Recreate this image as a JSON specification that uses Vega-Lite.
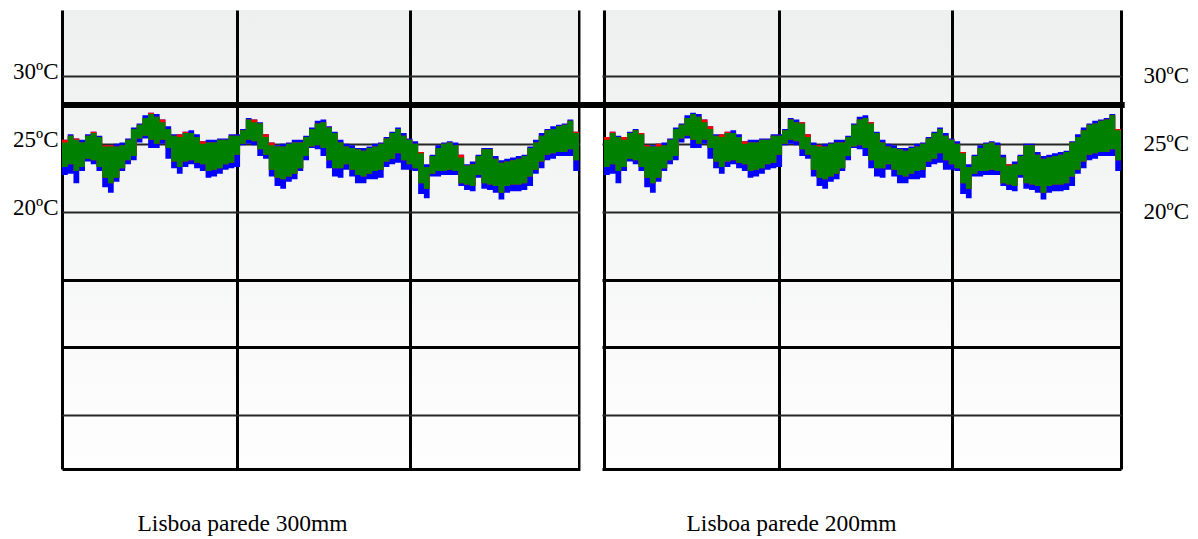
{
"$schema":"https://vega.github.io/schema/vega-lite/v6.json",
"autosize":{"type":"none"},
"width":1059,"height":459,
"padding":{"left":62,"top":10,"right":77,"bottom":70},
"background":"#ffffff",
"config":{"view":{"stroke":null,"fill":{"gradient":"linear","x1":0,"y1":0,"x2":0,"y2":1,"stops":[{"offset":0,"color":"#eeefef"},{"offset":1,"color":"#fefefe"}]}}},
"datasets":{
"p300":[
{"d":0,"bhi":25.3,"ghi":25.1,"rhi":25.3,"glo":23.3,"blo":22.7},
{"d":1,"bhi":25.7,"ghi":25.6,"rhi":25.6,"glo":23.5,"blo":22.8},
{"d":2,"bhi":25.4,"ghi":25.3,"rhi":25.4,"glo":23.0,"blo":22.1},
{"d":3,"bhi":25.3,"ghi":25.1,"rhi":25.1,"glo":23.3,"blo":23.0},
{"d":4,"bhi":25.7,"ghi":25.6,"rhi":25.6,"glo":23.9,"blo":23.7},
{"d":5,"bhi":25.9,"ghi":25.8,"rhi":25.9,"glo":23.8,"blo":23.5},
{"d":6,"bhi":25.6,"ghi":25.5,"rhi":25.5,"glo":23.3,"blo":23.0},
{"d":7,"bhi":24.9,"ghi":24.8,"rhi":24.9,"glo":22.5,"blo":21.8},
{"d":8,"bhi":24.9,"ghi":24.8,"rhi":24.9,"glo":22.1,"blo":21.4},
{"d":9,"bhi":25.0,"ghi":24.8,"rhi":24.8,"glo":22.5,"blo":22.2},
{"d":10,"bhi":25.1,"ghi":24.9,"rhi":24.9,"glo":23.2,"blo":23.0},
{"d":11,"bhi":25.4,"ghi":25.3,"rhi":25.3,"glo":23.8,"blo":23.5},
{"d":12,"bhi":26.2,"ghi":26.1,"rhi":26.1,"glo":24.1,"blo":23.8},
{"d":13,"bhi":26.5,"ghi":26.4,"rhi":26.4,"glo":25.4,"blo":25.1},
{"d":14,"bhi":27.1,"ghi":26.9,"rhi":26.9,"glo":25.6,"blo":25.4},
{"d":15,"bhi":27.3,"ghi":27.2,"rhi":27.3,"glo":25.3,"blo":24.7},
{"d":16,"bhi":27.2,"ghi":27.0,"rhi":27.0,"glo":25.0,"blo":24.7},
{"d":17,"bhi":26.8,"ghi":26.6,"rhi":26.8,"glo":25.3,"blo":25.0},
{"d":18,"bhi":26.3,"ghi":26.1,"rhi":26.1,"glo":24.7,"blo":23.9},
{"d":19,"bhi":25.7,"ghi":25.6,"rhi":25.6,"glo":23.7,"blo":23.2},
{"d":20,"bhi":25.7,"ghi":25.5,"rhi":25.7,"glo":23.3,"blo":22.8},
{"d":21,"bhi":25.9,"ghi":25.8,"rhi":25.9,"glo":23.7,"blo":23.3},
{"d":22,"bhi":26.0,"ghi":25.8,"rhi":25.8,"glo":23.8,"blo":23.5},
{"d":23,"bhi":25.7,"ghi":25.5,"rhi":25.5,"glo":23.6,"blo":23.2},
{"d":24,"bhi":25.2,"ghi":25.0,"rhi":25.2,"glo":23.5,"blo":23.0},
{"d":25,"bhi":25.3,"ghi":25.1,"rhi":25.1,"glo":23.0,"blo":22.5},
{"d":26,"bhi":25.3,"ghi":25.1,"rhi":25.1,"glo":23.1,"blo":22.6},
{"d":27,"bhi":25.4,"ghi":25.3,"rhi":25.3,"glo":23.2,"blo":22.8},
{"d":28,"bhi":25.4,"ghi":25.3,"rhi":25.3,"glo":23.5,"blo":23.1},
{"d":29,"bhi":25.7,"ghi":25.6,"rhi":25.6,"glo":23.6,"blo":23.2},
{"d":30,"bhi":25.7,"ghi":25.6,"rhi":25.6,"glo":24.2,"blo":23.3},
{"d":31,"bhi":26.1,"ghi":26.0,"rhi":26.0,"glo":25.0,"blo":24.9},
{"d":32,"bhi":26.9,"ghi":26.8,"rhi":26.8,"glo":25.3,"blo":25.0},
{"d":33,"bhi":26.8,"ghi":26.6,"rhi":26.8,"glo":25.2,"blo":24.9},
{"d":34,"bhi":26.6,"ghi":26.5,"rhi":26.5,"glo":24.6,"blo":24.1},
{"d":35,"bhi":25.7,"ghi":25.5,"rhi":25.7,"glo":24.2,"blo":23.9},
{"d":36,"bhi":25.1,"ghi":24.9,"rhi":25.1,"glo":23.1,"blo":22.6},
{"d":37,"bhi":24.9,"ghi":24.8,"rhi":24.8,"glo":22.5,"blo":21.9},
{"d":38,"bhi":25.0,"ghi":24.8,"rhi":24.8,"glo":22.4,"blo":21.7},
{"d":39,"bhi":25.1,"ghi":25.0,"rhi":25.0,"glo":22.6,"blo":22.2},
{"d":40,"bhi":25.3,"ghi":25.1,"rhi":25.1,"glo":22.8,"blo":22.4},
{"d":41,"bhi":25.3,"ghi":25.1,"rhi":25.1,"glo":23.2,"blo":23.0},
{"d":42,"bhi":25.6,"ghi":25.5,"rhi":25.5,"glo":24.1,"blo":23.8},
{"d":43,"bhi":26.2,"ghi":26.1,"rhi":26.1,"glo":24.8,"blo":24.7},
{"d":44,"bhi":26.7,"ghi":26.5,"rhi":26.5,"glo":24.9,"blo":24.6},
{"d":45,"bhi":26.8,"ghi":26.6,"rhi":26.6,"glo":24.7,"blo":24.1},
{"d":46,"bhi":26.3,"ghi":26.2,"rhi":26.2,"glo":23.8,"blo":23.2},
{"d":47,"bhi":25.9,"ghi":25.8,"rhi":25.8,"glo":23.2,"blo":22.6},
{"d":48,"bhi":25.3,"ghi":25.1,"rhi":25.1,"glo":23.2,"blo":22.5},
{"d":49,"bhi":25.0,"ghi":24.8,"rhi":24.8,"glo":23.5,"blo":23.1},
{"d":50,"bhi":24.9,"ghi":24.7,"rhi":24.7,"glo":23.1,"blo":22.6},
{"d":51,"bhi":24.7,"ghi":24.6,"rhi":24.6,"glo":22.7,"blo":22.1},
{"d":52,"bhi":24.7,"ghi":24.5,"rhi":24.5,"glo":22.6,"blo":22.1},
{"d":53,"bhi":24.8,"ghi":24.7,"rhi":24.7,"glo":22.8,"blo":22.4},
{"d":54,"bhi":25.0,"ghi":24.8,"rhi":24.8,"glo":23.0,"blo":22.4},
{"d":55,"bhi":25.1,"ghi":25.0,"rhi":25.0,"glo":23.1,"blo":22.5},
{"d":56,"bhi":25.5,"ghi":25.4,"rhi":25.4,"glo":23.7,"blo":23.3},
{"d":57,"bhi":25.9,"ghi":25.8,"rhi":25.8,"glo":23.9,"blo":23.5},
{"d":58,"bhi":26.2,"ghi":26.1,"rhi":26.1,"glo":24.3,"blo":23.6},
{"d":59,"bhi":25.8,"ghi":25.6,"rhi":25.6,"glo":23.8,"blo":23.1},
{"d":60,"bhi":25.4,"ghi":25.3,"rhi":25.3,"glo":23.5,"blo":23.1},
{"d":61,"bhi":25.2,"ghi":25.0,"rhi":25.0,"glo":23.2,"blo":23.0},
{"d":62,"bhi":24.4,"ghi":24.3,"rhi":24.4,"glo":22.1,"blo":21.3},
{"d":63,"bhi":23.5,"ghi":23.3,"rhi":23.3,"glo":21.7,"blo":21.0},
{"d":64,"bhi":24.2,"ghi":24.1,"rhi":24.1,"glo":22.8,"blo":22.6},
{"d":65,"bhi":24.9,"ghi":24.7,"rhi":24.7,"glo":23.0,"blo":22.6},
{"d":66,"bhi":25.1,"ghi":25.0,"rhi":25.0,"glo":23.0,"blo":22.7},
{"d":67,"bhi":25.2,"ghi":25.1,"rhi":25.1,"glo":23.1,"blo":22.7},
{"d":68,"bhi":25.1,"ghi":24.9,"rhi":24.9,"glo":23.0,"blo":22.7},
{"d":69,"bhi":24.2,"ghi":24.0,"rhi":24.2,"glo":22.1,"blo":21.9},
{"d":70,"bhi":23.5,"ghi":23.4,"rhi":23.4,"glo":22.0,"blo":21.6},
{"d":71,"bhi":23.7,"ghi":23.5,"rhi":23.5,"glo":21.9,"blo":21.5},
{"d":72,"bhi":24.2,"ghi":24.1,"rhi":24.1,"glo":22.7,"blo":22.5},
{"d":73,"bhi":24.7,"ghi":24.6,"rhi":24.6,"glo":22.1,"blo":21.7},
{"d":74,"bhi":24.7,"ghi":24.6,"rhi":24.6,"glo":22.0,"blo":21.6},
{"d":75,"bhi":24.1,"ghi":23.9,"rhi":23.9,"glo":21.9,"blo":21.4},
{"d":76,"bhi":23.8,"ghi":23.6,"rhi":23.6,"glo":21.4,"blo":20.9},
{"d":77,"bhi":23.9,"ghi":23.7,"rhi":23.7,"glo":21.9,"blo":21.4},
{"d":78,"bhi":24.0,"ghi":23.8,"rhi":23.8,"glo":22.0,"blo":21.5},
{"d":79,"bhi":24.1,"ghi":23.9,"rhi":23.9,"glo":22.0,"blo":21.5},
{"d":80,"bhi":24.2,"ghi":24.1,"rhi":24.1,"glo":22.1,"blo":21.6},
{"d":81,"bhi":24.8,"ghi":24.7,"rhi":24.7,"glo":22.6,"blo":21.9},
{"d":82,"bhi":25.3,"ghi":25.1,"rhi":25.1,"glo":23.1,"blo":22.8},
{"d":83,"bhi":25.8,"ghi":25.6,"rhi":25.6,"glo":23.7,"blo":23.2},
{"d":84,"bhi":26.1,"ghi":26.0,"rhi":26.0,"glo":24.2,"blo":23.8},
{"d":85,"bhi":26.3,"ghi":26.1,"rhi":26.1,"glo":24.3,"blo":23.9},
{"d":86,"bhi":26.4,"ghi":26.3,"rhi":26.3,"glo":24.4,"blo":24.1},
{"d":87,"bhi":26.5,"ghi":26.4,"rhi":26.4,"glo":24.4,"blo":24.1},
{"d":88,"bhi":26.8,"ghi":26.7,"rhi":26.7,"glo":24.6,"blo":24.1},
{"d":89,"bhi":25.9,"ghi":25.8,"rhi":25.9,"glo":23.8,"blo":23.0},
{"d":90,"bhi":25.9,"ghi":25.8,"rhi":25.9,"glo":23.8,"blo":23.0}
],
"p200":[
{"d":0,"bhi":25.5,"ghi":25.3,"rhi":25.5,"glo":23.3,"blo":22.7},
{"d":1,"bhi":25.9,"ghi":25.8,"rhi":25.9,"glo":23.5,"blo":22.8},
{"d":2,"bhi":25.6,"ghi":25.5,"rhi":25.5,"glo":23.0,"blo":22.1},
{"d":3,"bhi":25.5,"ghi":25.3,"rhi":25.5,"glo":23.3,"blo":23.0},
{"d":4,"bhi":25.9,"ghi":25.8,"rhi":25.8,"glo":23.9,"blo":23.7},
{"d":5,"bhi":26.1,"ghi":26.0,"rhi":26.0,"glo":23.8,"blo":23.5},
{"d":6,"bhi":25.8,"ghi":25.7,"rhi":25.8,"glo":23.3,"blo":23.0},
{"d":7,"bhi":24.9,"ghi":24.8,"rhi":24.9,"glo":22.5,"blo":21.8},
{"d":8,"bhi":24.9,"ghi":24.8,"rhi":24.8,"glo":22.1,"blo":21.4},
{"d":9,"bhi":25.0,"ghi":24.8,"rhi":25.0,"glo":22.5,"blo":22.2},
{"d":10,"bhi":25.1,"ghi":24.9,"rhi":24.9,"glo":23.2,"blo":23.0},
{"d":11,"bhi":25.4,"ghi":25.3,"rhi":25.3,"glo":23.8,"blo":23.5},
{"d":12,"bhi":26.2,"ghi":26.1,"rhi":26.1,"glo":24.1,"blo":23.8},
{"d":13,"bhi":26.5,"ghi":26.4,"rhi":26.4,"glo":25.4,"blo":25.1},
{"d":14,"bhi":27.1,"ghi":26.9,"rhi":26.9,"glo":25.6,"blo":25.4},
{"d":15,"bhi":27.3,"ghi":27.2,"rhi":27.2,"glo":25.3,"blo":24.7},
{"d":16,"bhi":27.2,"ghi":27.0,"rhi":27.0,"glo":25.0,"blo":24.7},
{"d":17,"bhi":26.8,"ghi":26.6,"rhi":26.8,"glo":25.3,"blo":25.0},
{"d":18,"bhi":26.3,"ghi":26.1,"rhi":26.3,"glo":24.7,"blo":23.9},
{"d":19,"bhi":25.7,"ghi":25.6,"rhi":25.6,"glo":23.7,"blo":23.2},
{"d":20,"bhi":25.7,"ghi":25.5,"rhi":25.7,"glo":23.3,"blo":22.8},
{"d":21,"bhi":25.9,"ghi":25.8,"rhi":25.9,"glo":23.7,"blo":23.3},
{"d":22,"bhi":26.0,"ghi":25.8,"rhi":25.8,"glo":23.8,"blo":23.5},
{"d":23,"bhi":25.7,"ghi":25.5,"rhi":25.5,"glo":23.6,"blo":23.2},
{"d":24,"bhi":25.2,"ghi":25.0,"rhi":25.2,"glo":23.5,"blo":23.0},
{"d":25,"bhi":25.3,"ghi":25.1,"rhi":25.1,"glo":23.0,"blo":22.5},
{"d":26,"bhi":25.3,"ghi":25.1,"rhi":25.1,"glo":23.1,"blo":22.6},
{"d":27,"bhi":25.4,"ghi":25.3,"rhi":25.3,"glo":23.2,"blo":22.8},
{"d":28,"bhi":25.4,"ghi":25.3,"rhi":25.3,"glo":23.5,"blo":23.1},
{"d":29,"bhi":25.7,"ghi":25.6,"rhi":25.6,"glo":23.6,"blo":23.2},
{"d":30,"bhi":25.7,"ghi":25.6,"rhi":25.6,"glo":24.2,"blo":23.3},
{"d":31,"bhi":26.1,"ghi":26.0,"rhi":26.0,"glo":25.0,"blo":24.9},
{"d":32,"bhi":26.9,"ghi":26.8,"rhi":26.8,"glo":25.3,"blo":25.0},
{"d":33,"bhi":26.8,"ghi":26.6,"rhi":26.6,"glo":25.2,"blo":24.9},
{"d":34,"bhi":26.6,"ghi":26.5,"rhi":26.6,"glo":24.6,"blo":24.1},
{"d":35,"bhi":25.7,"ghi":25.5,"rhi":25.7,"glo":24.2,"blo":23.9},
{"d":36,"bhi":25.1,"ghi":24.9,"rhi":24.9,"glo":23.1,"blo":22.6},
{"d":37,"bhi":24.9,"ghi":24.8,"rhi":24.9,"glo":22.5,"blo":21.9},
{"d":38,"bhi":25.0,"ghi":24.8,"rhi":24.8,"glo":22.4,"blo":21.7},
{"d":39,"bhi":25.1,"ghi":25.0,"rhi":25.0,"glo":22.6,"blo":22.2},
{"d":40,"bhi":25.3,"ghi":25.1,"rhi":25.1,"glo":22.8,"blo":22.4},
{"d":41,"bhi":25.3,"ghi":25.1,"rhi":25.1,"glo":23.2,"blo":23.0},
{"d":42,"bhi":25.6,"ghi":25.5,"rhi":25.5,"glo":24.1,"blo":23.8},
{"d":43,"bhi":26.5,"ghi":26.4,"rhi":26.4,"glo":24.8,"blo":24.7},
{"d":44,"bhi":27.0,"ghi":26.8,"rhi":26.8,"glo":24.9,"blo":24.6},
{"d":45,"bhi":27.1,"ghi":26.9,"rhi":26.9,"glo":24.7,"blo":24.1},
{"d":46,"bhi":26.6,"ghi":26.5,"rhi":26.6,"glo":23.8,"blo":23.2},
{"d":47,"bhi":25.9,"ghi":25.8,"rhi":25.8,"glo":23.2,"blo":22.6},
{"d":48,"bhi":25.3,"ghi":25.1,"rhi":25.1,"glo":23.2,"blo":22.5},
{"d":49,"bhi":25.0,"ghi":24.8,"rhi":24.8,"glo":23.5,"blo":23.1},
{"d":50,"bhi":24.9,"ghi":24.7,"rhi":24.7,"glo":23.1,"blo":22.6},
{"d":51,"bhi":24.7,"ghi":24.6,"rhi":24.6,"glo":22.7,"blo":22.1},
{"d":52,"bhi":24.7,"ghi":24.5,"rhi":24.5,"glo":22.6,"blo":22.1},
{"d":53,"bhi":24.8,"ghi":24.7,"rhi":24.7,"glo":22.8,"blo":22.4},
{"d":54,"bhi":25.0,"ghi":24.8,"rhi":24.8,"glo":23.0,"blo":22.4},
{"d":55,"bhi":25.1,"ghi":25.0,"rhi":25.0,"glo":23.1,"blo":22.5},
{"d":56,"bhi":25.5,"ghi":25.4,"rhi":25.4,"glo":23.7,"blo":23.3},
{"d":57,"bhi":25.9,"ghi":25.8,"rhi":25.8,"glo":23.9,"blo":23.5},
{"d":58,"bhi":26.2,"ghi":26.1,"rhi":26.1,"glo":24.3,"blo":23.6},
{"d":59,"bhi":25.8,"ghi":25.6,"rhi":25.6,"glo":23.8,"blo":23.1},
{"d":60,"bhi":25.4,"ghi":25.3,"rhi":25.3,"glo":23.5,"blo":23.1},
{"d":61,"bhi":25.2,"ghi":25.0,"rhi":25.0,"glo":23.2,"blo":23.0},
{"d":62,"bhi":24.4,"ghi":24.3,"rhi":24.4,"glo":22.1,"blo":21.3},
{"d":63,"bhi":23.5,"ghi":23.3,"rhi":23.3,"glo":21.7,"blo":21.0},
{"d":64,"bhi":24.2,"ghi":24.1,"rhi":24.1,"glo":22.8,"blo":22.6},
{"d":65,"bhi":24.9,"ghi":24.7,"rhi":24.7,"glo":23.0,"blo":22.6},
{"d":66,"bhi":25.1,"ghi":25.0,"rhi":25.0,"glo":23.0,"blo":22.7},
{"d":67,"bhi":25.2,"ghi":25.1,"rhi":25.1,"glo":23.1,"blo":22.7},
{"d":68,"bhi":25.1,"ghi":24.9,"rhi":24.9,"glo":23.0,"blo":22.7},
{"d":69,"bhi":24.2,"ghi":24.0,"rhi":24.0,"glo":22.1,"blo":21.9},
{"d":70,"bhi":23.5,"ghi":23.4,"rhi":23.5,"glo":22.0,"blo":21.6},
{"d":71,"bhi":23.7,"ghi":23.5,"rhi":23.5,"glo":21.9,"blo":21.5},
{"d":72,"bhi":24.2,"ghi":24.1,"rhi":24.1,"glo":22.7,"blo":22.5},
{"d":73,"bhi":25.0,"ghi":24.9,"rhi":24.9,"glo":22.1,"blo":21.7},
{"d":74,"bhi":25.0,"ghi":24.9,"rhi":24.9,"glo":22.0,"blo":21.6},
{"d":75,"bhi":24.4,"ghi":24.2,"rhi":24.2,"glo":21.9,"blo":21.4},
{"d":76,"bhi":24.1,"ghi":23.9,"rhi":23.9,"glo":21.4,"blo":20.9},
{"d":77,"bhi":24.2,"ghi":24.0,"rhi":24.0,"glo":21.9,"blo":21.4},
{"d":78,"bhi":24.3,"ghi":24.1,"rhi":24.1,"glo":22.0,"blo":21.5},
{"d":79,"bhi":24.4,"ghi":24.2,"rhi":24.2,"glo":22.0,"blo":21.5},
{"d":80,"bhi":24.5,"ghi":24.4,"rhi":24.4,"glo":22.1,"blo":21.6},
{"d":81,"bhi":25.2,"ghi":25.1,"rhi":25.1,"glo":22.6,"blo":21.9},
{"d":82,"bhi":25.7,"ghi":25.5,"rhi":25.5,"glo":23.1,"blo":22.8},
{"d":83,"bhi":26.2,"ghi":26.0,"rhi":26.0,"glo":23.7,"blo":23.2},
{"d":84,"bhi":26.5,"ghi":26.4,"rhi":26.4,"glo":24.2,"blo":23.8},
{"d":85,"bhi":26.7,"ghi":26.5,"rhi":26.5,"glo":24.3,"blo":23.9},
{"d":86,"bhi":26.8,"ghi":26.7,"rhi":26.7,"glo":24.4,"blo":24.1},
{"d":87,"bhi":26.9,"ghi":26.8,"rhi":26.8,"glo":24.4,"blo":24.1},
{"d":88,"bhi":27.2,"ghi":27.1,"rhi":27.1,"glo":24.6,"blo":24.1},
{"d":89,"bhi":26.1,"ghi":26.0,"rhi":26.1,"glo":23.8,"blo":23.0},
{"d":90,"bhi":26.1,"ghi":26.0,"rhi":26.1,"glo":23.8,"blo":23.0}
]
},
"layer":[
{
"data":{"name":"p300"},
"layer":[
{"mark":{"type":"area","interpolate":"step-after","color":"#0000ff"},
 "encoding":{
  "x":{"field":"d","type":"quantitative","scale":{"domain":[0,184.36],"nice":false,"zero":false},
       "axis":{"orient":"bottom","values":[0,30.5,60.6,90],"grid":true,"gridColor":"#000000","gridWidth":3,"gridOpacity":1,"labels":false,"ticks":false,"domain":false,
               "title":"Lisboa parede 300mm","titleFont":"Liberation Serif","titleFontSize":23.5,"titleFontWeight":"normal","titleColor":"#000000","titleAlign":"left","titleBaseline":"middle","titleX":75,"titleY":54}},
  "y":{"field":"bhi","type":"quantitative","scale":{"domain":[1.05,34.86],"nice":false,"zero":false},
       "axis":{"orient":"left","values":[1.05,5,10,15,20,25,30],"grid":true,"gridOpacity":1,
               "gridColor":{"condition":{"test":"datum.value == 15 || datum.value == 10 || datum.value < 2","value":"#000000"},"value":"#262626"},
               "gridWidth":{"condition":{"test":"datum.value == 15 || datum.value == 10 || datum.value < 2","value":3},"value":2},
               "ticks":false,"domain":false,"title":null,
               "labelExpr":"indexof([20,25,30], datum.value) >= 0 ? datum.value + 'ºC' : ''",
               "labelFont":"Liberation Serif","labelFontSize":23,"labelColor":"#000000","labelPadding":4,"labelOffset":-4}},
  "y2":{"field":"blo"}}},
{"mark":{"type":"area","interpolate":"step-after","color":"#ff0000"},
 "encoding":{"x":{"field":"d","type":"quantitative"},"y":{"field":"rhi","type":"quantitative"},"y2":{"field":"glo"}}},
{"mark":{"type":"area","interpolate":"step-after","color":"#008000"},
 "encoding":{"x":{"field":"d","type":"quantitative"},"y":{"field":"ghi","type":"quantitative"},"y2":{"field":"glo"}}},
{"data":{"values":[{}]},
 "mark":{"type":"rect","color":"#ffffff"},
 "encoding":{"x":{"datum":90.26},"x2":{"datum":94.09},"y":{"datum":0.7},"y2":{"datum":34.86}}},
{"data":{"values":[{}]},
 "mark":{"type":"rule","color":"#000000","strokeWidth":6,"strokeCap":"butt"},
 "encoding":{"x":{"datum":0},"x2":{"datum":185},"y":{"datum":27.86}}}
]
},
{
"data":{"name":"p200"},
"layer":[
{"mark":{"type":"area","interpolate":"step-after","color":"#0000ff"},
 "encoding":{
  "x":{"field":"d","type":"quantitative","scale":{"domain":[-94.36,90],"nice":false,"zero":false},
       "axis":{"orient":"bottom","values":[0,30.5,60.6,90],"grid":true,"gridColor":"#000000","gridWidth":3,"gridOpacity":1,"labels":false,"ticks":false,"domain":false,
               "title":"Lisboa parede 200mm","titleFont":"Liberation Serif","titleFontSize":23.5,"titleFontWeight":"normal","titleColor":"#000000","titleAlign":"left","titleBaseline":"middle","titleX":624,"titleY":54}},
  "y":{"field":"bhi","type":"quantitative","scale":{"domain":[1.05,34.86],"nice":false,"zero":false},
       "axis":{"orient":"right","values":[20,25,30],"grid":false,"ticks":false,"domain":false,"title":null,
               "labelExpr":"datum.value + 'ºC'",
               "labelFont":"Liberation Serif","labelFontSize":23,"labelColor":"#000000","labelPadding":22,"labelOffset":0}},
  "y2":{"field":"blo"}}},
{"mark":{"type":"area","interpolate":"step-after","color":"#ff0000"},
 "encoding":{"x":{"field":"d","type":"quantitative"},"y":{"field":"rhi","type":"quantitative"},"y2":{"field":"glo"}}},
{"mark":{"type":"area","interpolate":"step-after","color":"#008000"},
 "encoding":{"x":{"field":"d","type":"quantitative"},"y":{"field":"ghi","type":"quantitative"},"y2":{"field":"glo"}}}
]
}
],
"resolve":{"scale":{"x":"independent","y":"independent"},"axis":{"x":"independent","y":"independent"}}
}
